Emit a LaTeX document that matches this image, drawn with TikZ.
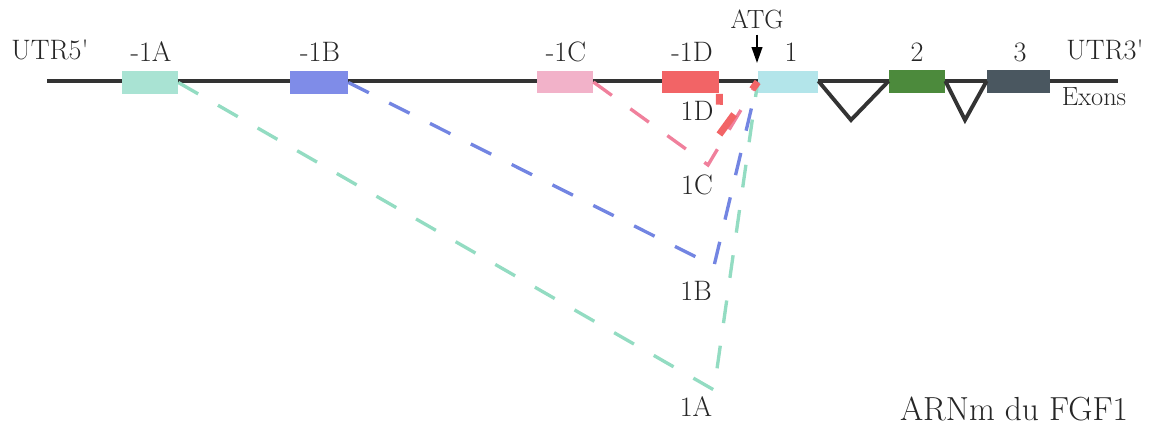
\documentclass[tikz,border=0pt]{standalone}
\usetikzlibrary{arrows.meta}

\definecolor{exonA}{HTML}{A9E3D3}
\definecolor{exonB}{HTML}{7F8CE8}
\definecolor{exonC}{HTML}{F2B2C9}
\definecolor{exonD}{HTML}{F26466}
\definecolor{exonI}{HTML}{B3E5EA}
\definecolor{exonII}{HTML}{4C8A3C}
\definecolor{exonIII}{HTML}{4A5760}
\definecolor{lineA}{HTML}{93DCC2}
\definecolor{lineB}{HTML}{7385E2}
\definecolor{lineC}{HTML}{F0809C}

\begin{document}
\begin{tikzpicture}[x=0.02cm, y=-0.02cm, font=\fontsize{16}{19}\selectfont,
        text=black!85,
        exon/.style={minimum height=0.46cm, inner sep=0pt},
        gene/.style={line width=2.1pt, draw=black!80},
        splice/.style={line width=1.9pt, dash pattern=on 13pt off 13pt}]
    \useasboundingbox (0,0) rectangle (1159,429);

    % gene axis
    \coordinate (utr5) at (47,81);
    \coordinate (utr3) at (1118,81);
    \draw[gene] (utr5) -- (utr3);

    % exons
    \node[exon, fill=exonA, minimum width=1.12cm] (eA) at (150,82.5) {};
    \node[exon, fill=exonB, minimum width=1.16cm] (eB) at (319,82.5) {};
    \node[exon, fill=exonC, minimum width=1.12cm] (eC) at (565,82) {};
    \node[exon, fill=exonD, minimum width=1.14cm] (eD) at (690.5,82) {};
    \node[exon, fill=exonI, minimum width=1.2cm] (e1) at (788,82) {};
    \node[exon, fill=exonII, minimum width=1.12cm] (e2) at (917,81.5) {};
    \node[exon, fill=exonIII, minimum width=1.26cm] (e3) at (1018.5,81.5) {};

    % introns
    \coordinate (v1) at (851,120);
    \coordinate (v2) at (965,120);
    \draw[gene, line width=2.2pt, line join=miter] (e1.east |- utr5) -- (v1) -- (e2.west |- utr5);
    \draw[gene, line width=2.2pt, line join=miter] (e2.east |- utr5) -- (v2) -- (e3.west |- utr5);

    % labels above
    \node (tUTR5) at (50,50) {UTR5\textquotesingle};
    \node (tA) at (151,52) {-1A};
    \node (tB) at (320,52) {-1B};
    \node (tC) at (566,52) {-1C};
    \node (tD) at (692,52) {-1D};
    \node (t1) at (791,52) {1};
    \node (t2) at (917,52) {2};
    \node (t3) at (1020,52) {3};
    \node (tUTR3) at (1105,50) {UTR3\textquotesingle};
    \node[font=\fontsize{15}{18}\selectfont] (tEx) at (1094,97) {Exons};

    % ATG
    \node[font=\fontsize{15}{18}\selectfont] (atg) at (757,19) {ATG};
    \coordinate (atgtip) at (757,63);
    \draw[line width=1.1pt, -{Triangle[length=9pt, width=6pt]}] (atg) -- (atgtip);

    % transcripts
    \coordinate (sA) at (714,390);
    \coordinate (sB) at (714,266);
    \coordinate (sC) at (708,165);
    \coordinate (sD) at (719,135);
    \draw[splice, draw=lineA] (eA.east) -- (sA) -- (e1.west);
    \draw[splice, draw=lineB] (eB.east) -- (sB) -- (e1.west);
    \draw[splice, draw=lineC] (eC.east) -- (sC) -- (e1.west);
    \draw[draw=exonD, line width=4pt,
        dash pattern=on 6.2pt off 17.6pt on 14.2pt off 17.6pt]
        (eD.south east) -- (sD) -- (e1.west);

    \node (t1D) at (697,111) {1D};
    \node (t1C) at (697,185) {1C};
    \node (t1B) at (696,291) {1B};
    \node (t1A) at (696,407) {1A};

    \node[font=\fontsize{19}{22}\selectfont] (title) at (1014,409) {ARNm du FGF1};
\end{tikzpicture}
\end{document}
